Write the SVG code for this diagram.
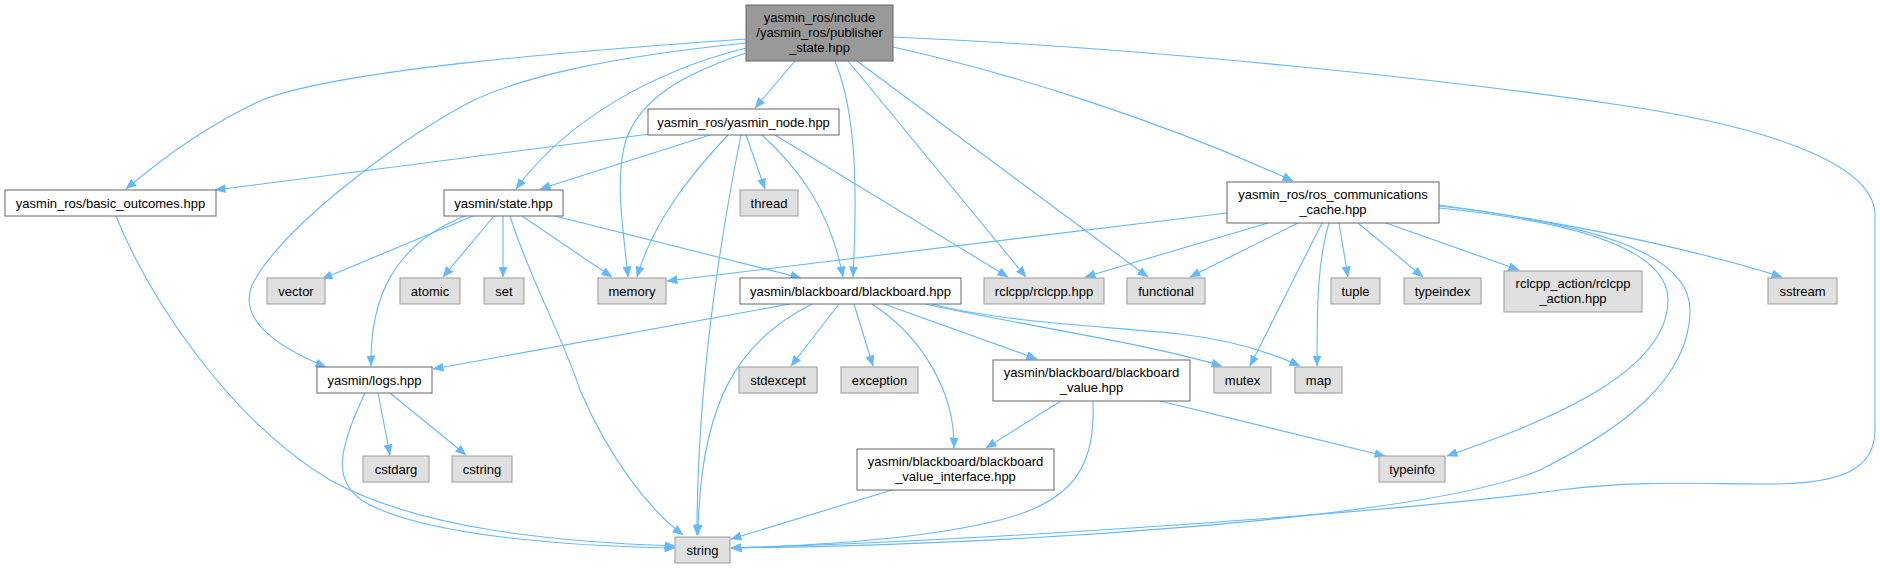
<svg xmlns="http://www.w3.org/2000/svg" width="1880" height="568" viewBox="0 0 1880 568">
<style>
  .e { fill: none; stroke: #63b8ff; stroke-width: 1.1; marker-end: url(#arr); }
  .w rect { fill: #ffffff; stroke: #666666; stroke-width: 1; }
  .g rect { fill: #e0e0e0; stroke: #999999; stroke-width: 1; }
  .r rect { fill: #999999; stroke: #666666; stroke-width: 1; }
  text { font-family: "Liberation Sans", Arial, Helvetica, sans-serif; font-size: 13px; fill: #000000; text-anchor: middle; }
</style>
<defs>
  <marker id="arr" markerWidth="11" markerHeight="9" refX="10.5" refY="4.5" orient="auto" markerUnits="userSpaceOnUse">
    <path d="M0,0 L11,4.5 L0,9 z" fill="#63b8ff"/>
  </marker>
</defs>
<rect x="0" y="0" width="1880" height="568" fill="#ffffff"/>
<g id="connectors">
  <!-- root edges -->
  <path class="e" d="M746,39 C 560,52 340,70 262,100 C 205,126 160,160 126,189"/>
  <path class="e" d="M746,43 C 600,58 520,78 470,102 C 390,145 280,230 252,285 C 240,315 265,342 326,367"/>
  <path class="e" d="M746,48 C 650,72 565,122 516,189"/>
  <path class="e" d="M746,53 C 680,75 640,100 626,140 C 614,178 624,235 628,277"/>
  <path class="e" d="M795,61 L 755,108"/>
  <path class="e" d="M835,61 C 855,110 858,180 853,277"/>
  <path class="e" d="M848,61 L 1026,277"/>
  <path class="e" d="M857,61 L 1148,277"/>
  <path class="e" d="M893,47 C 1010,73 1160,120 1293,181"/>
  <path class="e" d="M893,37 C 1150,48 1450,80 1620,105 C 1790,130 1875,170 1875,215 L 1875,430 C 1875,470 1840,484 1770,484 C 1700,484 1640,480 1560,490 C 1400,512 1000,540 731,548"/>
  <!-- yasmin_node edges -->
  <path class="e" d="M650,134 L 215,190"/>
  <path class="e" d="M710,135 L 540,189"/>
  <path class="e" d="M728,135 C 700,165 655,215 637,277"/>
  <path class="e" d="M746,135 L 765,189"/>
  <path class="e" d="M741,135 C 722,230 697,380 697,535"/>
  <path class="e" d="M762,135 C 800,170 830,210 843,277"/>
  <path class="e" d="M775,135 L 1008,277"/>
  <!-- state edges -->
  <path class="e" d="M473,216 L 322,279"/>
  <path class="e" d="M465,216 C 392,245 370,300 371,366"/>
  <path class="e" d="M494,216 L 443,277"/>
  <path class="e" d="M503,216 L 503,277"/>
  <path class="e" d="M510,216 C 530,280 560,330 580,390 C 610,460 650,510 683,535"/>
  <path class="e" d="M522,216 L 612,277"/>
  <path class="e" d="M555,216 L 801,278"/>
  <!-- ros_communications_cache edges -->
  <path class="e" d="M1227,213 L 667,281"/>
  <path class="e" d="M1268,223 L 1085,277"/>
  <path class="e" d="M1298,223 L 1190,277"/>
  <path class="e" d="M1322,223 L 1250,366"/>
  <path class="e" d="M1329,223 C 1318,260 1317,300 1317,366"/>
  <path class="e" d="M1339,223 L 1348,277"/>
  <path class="e" d="M1358,223 L 1423,277"/>
  <path class="e" d="M1386,223 L 1519,270"/>
  <path class="e" d="M1439,205 C 1550,220 1680,245 1782,277"/>
  <path class="e" d="M1439,208 C 1560,220 1668,245 1668,300 C 1668,380 1520,430 1447,456"/>
  <path class="e" d="M1439,206 C 1580,222 1690,250 1690,310 C 1690,380 1620,430 1540,470 C 1420,520 1000,545 731,548"/>
  <!-- blackboard edges -->
  <path class="e" d="M790,304 L 433,369"/>
  <path class="e" d="M812,304 C 740,340 700,400 698,535"/>
  <path class="e" d="M839,304 L 791,366"/>
  <path class="e" d="M854,304 L 873,366"/>
  <path class="e" d="M872,304 C 920,335 955,390 954,448"/>
  <path class="e" d="M884,304 L 1037,359"/>
  <path class="e" d="M925,304 C 1020,325 1140,342 1222,366"/>
  <path class="e" d="M932,304 C 1000,322 1100,326 1180,334 C 1230,340 1270,352 1300,366"/>
  <!-- blackboard_value edges -->
  <path class="e" d="M1061,401 L 986,448"/>
  <path class="e" d="M1093,401 C 1095,460 1080,500 1000,520 C 920,540 800,546 731,548"/>
  <path class="e" d="M1160,401 L 1385,456"/>
  <!-- blackboard_value_interface edges -->
  <path class="e" d="M892,490 L 731,539"/>
  <!-- logs edges -->
  <path class="e" d="M378,393 L 390,455"/>
  <path class="e" d="M390,393 L 466,455"/>
  <path class="e" d="M365,393 C 338,450 330,485 370,505 C 430,535 560,546 675,548"/>
  <!-- basic_outcomes edge -->
  <path class="e" d="M116,216 C 150,300 230,420 330,480 C 420,530 560,542 675,546"/>
</g>

<g id="root" class="r"><rect x="746" y="5" width="147" height="56"/><text x="819.5" y="22">yasmin_ros/include</text><text x="819.5" y="37">/yasmin_ros/publisher</text><text x="819.5" y="52">_state.hpp</text></g>

<g id="yasmin_node" class="w"><rect x="648" y="109" width="191" height="26"/><text x="743.5" y="126.5">yasmin_ros/yasmin_node.hpp</text></g>
<g id="basic_outcomes" class="w"><rect x="5" y="190" width="211" height="26"/><text x="110.5" y="207.5">yasmin_ros/basic_outcomes.hpp</text></g>
<g id="state" class="w"><rect x="444" y="190" width="119" height="26"/><text x="503.5" y="207.5">yasmin/state.hpp</text></g>
<g id="thread" class="g"><rect x="740" y="190" width="58" height="26"/><text x="769" y="207.5">thread</text></g>
<g id="ros_communications_cache" class="w"><rect x="1227" y="182" width="212" height="41"/><text x="1333" y="199">yasmin_ros/ros_communications</text><text x="1333" y="214">_cache.hpp</text></g>

<g id="vector" class="g"><rect x="267" y="278" width="58" height="26"/><text x="296" y="295.5">vector</text></g>
<g id="atomic" class="g"><rect x="400" y="278" width="60" height="26"/><text x="430" y="295.5">atomic</text></g>
<g id="set" class="g"><rect x="484" y="278" width="40" height="26"/><text x="504" y="295.5">set</text></g>
<g id="memory" class="g"><rect x="598" y="278" width="68" height="26"/><text x="632" y="295.5">memory</text></g>
<g id="blackboard" class="w"><rect x="740" y="278" width="221" height="26"/><text x="850.5" y="295.5">yasmin/blackboard/blackboard.hpp</text></g>
<g id="rclcpp" class="g"><rect x="984" y="278" width="120" height="26"/><text x="1044" y="295.5">rclcpp/rclcpp.hpp</text></g>
<g id="functional" class="g"><rect x="1127" y="278" width="78" height="26"/><text x="1166" y="295.5">functional</text></g>
<g id="tuple" class="g"><rect x="1331" y="278" width="49" height="26"/><text x="1355.5" y="295.5">tuple</text></g>
<g id="typeindex" class="g"><rect x="1404" y="278" width="77" height="26"/><text x="1442.5" y="295.5">typeindex</text></g>
<g id="rclcpp_action" class="g"><rect x="1504" y="271" width="138" height="41"/><text x="1573" y="288">rclcpp_action/rclcpp</text><text x="1573" y="303">_action.hpp</text></g>
<g id="sstream" class="g"><rect x="1768" y="278" width="69" height="26"/><text x="1802.5" y="295.5">sstream</text></g>

<g id="logs" class="w"><rect x="317" y="367" width="115" height="26"/><text x="374.5" y="384.5">yasmin/logs.hpp</text></g>
<g id="stdexcept" class="g"><rect x="739" y="367" width="78" height="26"/><text x="778" y="384.5">stdexcept</text></g>
<g id="exception" class="g"><rect x="841" y="367" width="77" height="26"/><text x="879.5" y="384.5">exception</text></g>
<g id="blackboard_value" class="w"><rect x="993" y="360" width="197" height="41"/><text x="1091.5" y="377">yasmin/blackboard/blackboard</text><text x="1091.5" y="392">_value.hpp</text></g>
<g id="mutex" class="g"><rect x="1214" y="367" width="57" height="26"/><text x="1242.5" y="384.5">mutex</text></g>
<g id="map" class="g"><rect x="1295" y="367" width="47" height="26"/><text x="1318.5" y="384.5">map</text></g>

<g id="cstdarg" class="g"><rect x="363" y="456" width="66" height="26"/><text x="396" y="473.5">cstdarg</text></g>
<g id="cstring" class="g"><rect x="452" y="456" width="60" height="26"/><text x="482" y="473.5">cstring</text></g>
<g id="blackboard_value_interface" class="w"><rect x="857" y="449" width="197" height="41"/><text x="955.5" y="466">yasmin/blackboard/blackboard</text><text x="955.5" y="481">_value_interface.hpp</text></g>
<g id="typeinfo" class="g"><rect x="1379" y="456" width="66" height="26"/><text x="1412" y="473.5">typeinfo</text></g>

<g id="string" class="g"><rect x="675" y="537" width="55" height="26"/><text x="702.5" y="554.5">string</text></g>
</svg>
